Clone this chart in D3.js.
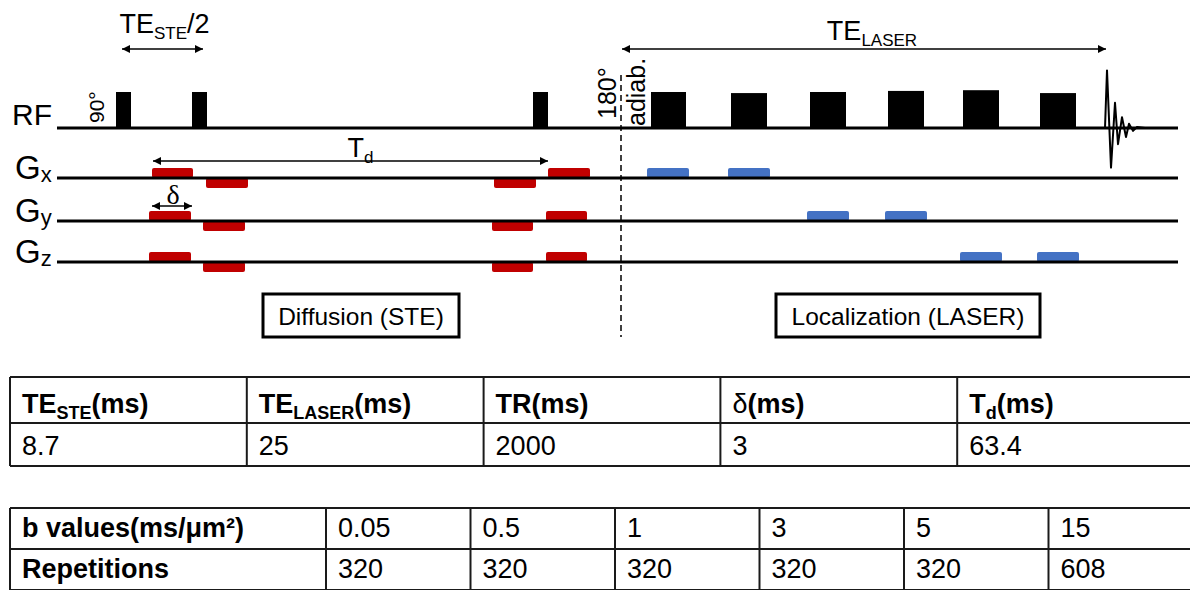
<!DOCTYPE html>
<html>
<head>
<meta charset="utf-8">
<script src="https://cdn.jsdelivr.net/npm/d3@7"></script>
<style>
  body { margin: 0; background: #fff; }
  text { font-family: "Liberation Sans", Arial, sans-serif; fill: #000; }
</style>
</head>
<body>
<svg id="chart"></svg>
<script>
// sequence channels
const channels = ["RF", "Gx", "Gy", "Gz"];

// RF pulses: start / end (time units), relative amplitude
const rfPulses = [
  { t0: 59, t1: 74, amp: 1 },
  { t0: 135, t1: 150, amp: 1 },
  { t0: 476, t1: 491, amp: 1 },
  { t0: 594, t1: 629, amp: 1 },
  { t0: 674, t1: 710, amp: 0.97 },
  { t0: 753, t1: 789, amp: 1 },
  { t0: 831, t1: 867, amp: 1.03 },
  { t0: 906, t1: 942, amp: 1.05 },
  { t0: 983, t1: 1019, amp: 0.97 }
];

// FID after the last pulse: time, amplitude
const fid = [
  [1048, 0], [1050, 1.6], [1054, -1.1], [1058, 0.7], [1061, -0.45], [1065, 0.3],
  [1069, -0.25], [1072, 0.12], [1076, -0.08], [1080, 0.03], [1088, 0]
];

// gradient lobes: channel, start, end, amplitude, kind
const gradLobes = [
  { ch: "Gx", t0: 95, t1: 136, amp: 1, kind: "diff" },
  { ch: "Gx", t0: 149, t1: 191, amp: -1, kind: "diff" },
  { ch: "Gx", t0: 437, t1: 479, amp: -1, kind: "diff" },
  { ch: "Gx", t0: 491, t1: 533, amp: 1, kind: "diff" },
  { ch: "Gy", t0: 92, t1: 134, amp: 1, kind: "diff" },
  { ch: "Gy", t0: 146, t1: 188, amp: -1, kind: "diff" },
  { ch: "Gy", t0: 435, t1: 476, amp: -1, kind: "diff" },
  { ch: "Gy", t0: 489, t1: 530, amp: 1, kind: "diff" },
  { ch: "Gz", t0: 92, t1: 134, amp: 1, kind: "diff" },
  { ch: "Gz", t0: 146, t1: 188, amp: -1, kind: "diff" },
  { ch: "Gz", t0: 435, t1: 476, amp: -1, kind: "diff" },
  { ch: "Gz", t0: 489, t1: 530, amp: 1, kind: "diff" },
  { ch: "Gx", t0: 590, t1: 632, amp: 1, kind: "loc" },
  { ch: "Gx", t0: 671, t1: 713, amp: 1, kind: "loc" },
  { ch: "Gy", t0: 750, t1: 792, amp: 1, kind: "loc" },
  { ch: "Gy", t0: 828, t1: 870, amp: 1, kind: "loc" },
  { ch: "Gz", t0: 903, t1: 945, amp: 1, kind: "loc" },
  { ch: "Gz", t0: 980, t1: 1022, amp: 1, kind: "loc" }
];

// timing spans (double arrows)
const spans = [
  { main: "TE", sub: "STE", tail: "/2", t0: 65, t1: 146 },
  { main: "TE", sub: "LASER", tail: "", t0: 565, t1: 1049 },
  { main: "T", sub: "d", tail: "", t0: 96, t1: 491 },
  { main: "δ", sub: "", tail: "", t0: 95, t1: 135 }
];
const dividerT = 564;
const blocks = [
  { name: "Diffusion (STE)", t0: 206, t1: 402 },
  { name: "Localization (LASER)", t0: 719, t1: 983 }
];

// table 1: sequence parameters
const paramHeaders = [
  { main: "TE", sub: "STE", tail: "(ms)" },
  { main: "TE", sub: "LASER", tail: "(ms)" },
  { main: "TR", sub: "", tail: "(ms)" },
  { main: "δ", sub: "", tail: "(ms)" },
  { main: "T", sub: "d", tail: "(ms)" }
];
const paramValues = ["8.7", "25", "2000", "3", "63.4"];

// table 2: b values and repetitions
const rowLabels = ["b values(ms/μm²)", "Repetitions"];
const bValues = ["0.05", "0.5", "1", "3", "5", "15"];
const repetitions = ["320", "320", "320", "320", "320", "608"];

const width = 1190, height = 590;
const svg = d3.select("#chart").attr("width", width).attr("height", height);

const x = d3.scaleLinear().domain([0, 1121]).range([57, 1178]);
const lineY = d3.scaleOrdinal().domain(channels).range([128, 178, 221, 262]);
const rfAmp = d3.scaleLinear().domain([0, 1]).range([0, 36]);
const gAmp = d3.scaleLinear().domain([0, 1]).range([0, 10]);
const lobeColor = d3.scaleOrdinal().domain(["diff", "loc"]).range(["#c00000", "#4472c4"]);

const defs = svg.append("defs");
defs.append("marker")
  .attr("id", "head")
  .attr("viewBox", "0 0 10 10")
  .attr("refX", 10).attr("refY", 5)
  .attr("markerWidth", 9).attr("markerHeight", 8)
  .attr("markerUnits", "userSpaceOnUse")
  .attr("orient", "auto-start-reverse")
  .append("path").attr("d", "M0,0L10,5L0,10Z").attr("fill", "#000");

// gradient lobes
svg.append("g").selectAll("rect")
  .data(gradLobes)
  .join("rect")
  .attr("x", d => x(d.t0))
  .attr("width", d => x(d.t1) - x(d.t0))
  .attr("y", d => d.amp > 0 ? lineY(d.ch) - gAmp(d.amp) : lineY(d.ch))
  .attr("height", d => gAmp(Math.abs(d.amp)))
  .attr("rx", 2)
  .attr("fill", d => lobeColor(d.kind));

// channel baselines
svg.append("g").selectAll("line")
  .data(channels)
  .join("line")
  .attr("x1", x(0)).attr("x2", x(1121))
  .attr("y1", d => lineY(d)).attr("y2", d => lineY(d))
  .attr("stroke", "#000").attr("stroke-width", 3);

// RF pulses
svg.append("g").selectAll("rect")
  .data(rfPulses)
  .join("rect")
  .attr("x", d => x(d.t0))
  .attr("width", d => x(d.t1) - x(d.t0))
  .attr("y", d => lineY("RF") - rfAmp(d.amp))
  .attr("height", d => rfAmp(d.amp))
  .attr("fill", "#000");

// FID
svg.append("path")
  .datum(fid)
  .attr("d", d3.line().x(d => x(d[0])).y(d => lineY("RF") - rfAmp(d[1])))
  .attr("fill", "none").attr("stroke", "#000")
  .attr("stroke-width", 2).attr("stroke-linejoin", "round");

// channel labels
svg.append("text").attr("x", 12).attr("y", 125).attr("font-size", 30).text("RF");
const gl = svg.append("g").selectAll("text")
  .data(channels.slice(1))
  .join("text")
  .attr("x", 15)
  .attr("y", d => lineY(d) + 1)
  .attr("font-size", 33);
gl.append("tspan").text("G");
gl.append("tspan").attr("font-size", 22).attr("dy", 3).text(d => d.slice(1));

// flip angle labels
const flip = [
  { txt: "90°", t: 47, y: 123, size: 21 },
  { txt: "180°", t: 559, y: 119, size: 25 },
  { txt: "adiab.", t: 588, y: 126, size: 25 }
];
svg.append("g").selectAll("text")
  .data(flip)
  .join("text")
  .attr("transform", d => `translate(${x(d.t)},${d.y}) rotate(-90)`)
  .attr("font-size", d => d.size)
  .text(d => d.txt);

// divider
svg.append("line")
  .attr("x1", x(dividerT)).attr("x2", x(dividerT))
  .attr("y1", 75).attr("y2", 337)
  .attr("stroke", "#000").attr("stroke-width", 1.5)
  .attr("stroke-dasharray", "6,4");

// timing arrows
const arrowY = [49, 49, 161, 206];
const labelPos = [{ dx: 2, y: 33, size: 27 }, { dx: 8, y: 40, size: 27 }, { dx: 10, y: 157, size: 27 }, { dx: 1, y: 204, size: 28 }];
svg.append("g").selectAll("line")
  .data(spans)
  .join("line")
  .attr("x1", d => x(d.t0)).attr("x2", d => x(d.t1))
  .attr("y1", (d, i) => arrowY[i]).attr("y2", (d, i) => arrowY[i])
  .attr("stroke", "#000").attr("stroke-width", 1.5)
  .attr("marker-start", "url(#head)").attr("marker-end", "url(#head)");

const sl = svg.append("g").selectAll("text")
  .data(spans)
  .join("text")
  .attr("x", (d, i) => (x(d.t0) + x(d.t1)) / 2 + labelPos[i].dx)
  .attr("y", (d, i) => labelPos[i].y)
  .attr("text-anchor", "middle")
  .attr("font-size", (d, i) => labelPos[i].size)
  .style("font-family", d => d.main === "δ" ? "'Liberation Serif', serif" : null);
sl.append("tspan").text(d => d.main);
sl.append("tspan").attr("font-size", 17).attr("dy", 6).text(d => d.sub);
sl.append("tspan").attr("dy", d => d.sub ? -6 : 0).text(d => d.tail);

// block boxes
const bg = svg.append("g").selectAll("g")
  .data(blocks)
  .join("g");
bg.append("rect")
  .attr("x", d => x(d.t0)).attr("width", d => x(d.t1) - x(d.t0))
  .attr("y", 294).attr("height", 43)
  .attr("fill", "#fff").attr("stroke", "#000").attr("stroke-width", 3);
bg.append("text")
  .attr("x", d => (x(d.t0) + x(d.t1)) / 2)
  .attr("y", 325)
  .attr("text-anchor", "middle")
  .attr("font-size", 24.5)
  .text(d => d.name);

// ---- tables ----
const tableStroke = "#1a1a1a";
const fs = 27;

// table 1
const c1 = d3.scaleLinear().domain([0, 5]).range([10, 1194]);
const t1Rows = [377, 423, 466];
const t1 = svg.append("g");
t1.selectAll("line.h")
  .data(t1Rows)
  .join("line").attr("class", "h")
  .attr("x1", c1(0)).attr("x2", c1(5))
  .attr("y1", d => d).attr("y2", d => d)
  .attr("stroke", tableStroke).attr("stroke-width", 2);
t1.selectAll("line.v")
  .data(d3.range(6))
  .join("line").attr("class", "v")
  .attr("x1", d => c1(d)).attr("x2", d => c1(d))
  .attr("y1", t1Rows[0]).attr("y2", t1Rows[2])
  .attr("stroke", tableStroke).attr("stroke-width", 2);

const h1 = t1.selectAll("text.hd")
  .data(paramHeaders)
  .join("text").attr("class", "hd")
  .attr("x", (d, i) => c1(i) + 12)
  .attr("y", 413)
  .attr("font-size", fs)
  .attr("font-weight", "bold");
h1.append("tspan").attr("font-weight", d => d.main === "δ" ? "normal" : null).text(d => d.main);
h1.append("tspan").attr("font-size", 18).attr("dy", 6).text(d => d.sub);
h1.append("tspan").attr("dy", d => d.sub ? -6 : 0).text(d => d.tail);

t1.selectAll("text.val")
  .data(paramValues)
  .join("text").attr("class", "val")
  .attr("x", (d, i) => c1(i) + 12)
  .attr("y", 455)
  .attr("font-size", fs)
  .text(d => d);

// table 2
const c2 = d3.scaleLinear().domain([0, 6]).range([326, 1193]);
const t2Rows = [508, 549, 590];
const t2 = svg.append("g");
t2.selectAll("line.h")
  .data(t2Rows)
  .join("line").attr("class", "h")
  .attr("x1", 10).attr("x2", c2(6))
  .attr("y1", d => d).attr("y2", d => d)
  .attr("stroke", tableStroke).attr("stroke-width", 2);
t2.selectAll("line.v")
  .data([10].concat(d3.range(7).map(c2)))
  .join("line").attr("class", "v")
  .attr("x1", d => d).attr("x2", d => d)
  .attr("y1", t2Rows[0]).attr("y2", t2Rows[2])
  .attr("stroke", tableStroke).attr("stroke-width", 2);

const rowBase = [537, 578];
t2.selectAll("text.lab")
  .data(rowLabels)
  .join("text").attr("class", "lab")
  .attr("x", 22)
  .attr("y", (d, i) => rowBase[i])
  .attr("font-size", fs)
  .attr("font-weight", "bold")
  .text(d => d);

[bValues, repetitions].forEach((row, r) => {
  t2.selectAll("text.r" + r)
    .data(row)
    .join("text").attr("class", "r" + r)
    .attr("x", (d, i) => c2(i) + 12)
    .attr("y", rowBase[r])
    .attr("font-size", fs)
    .text(d => d);
});
</script>
</body>
</html>
